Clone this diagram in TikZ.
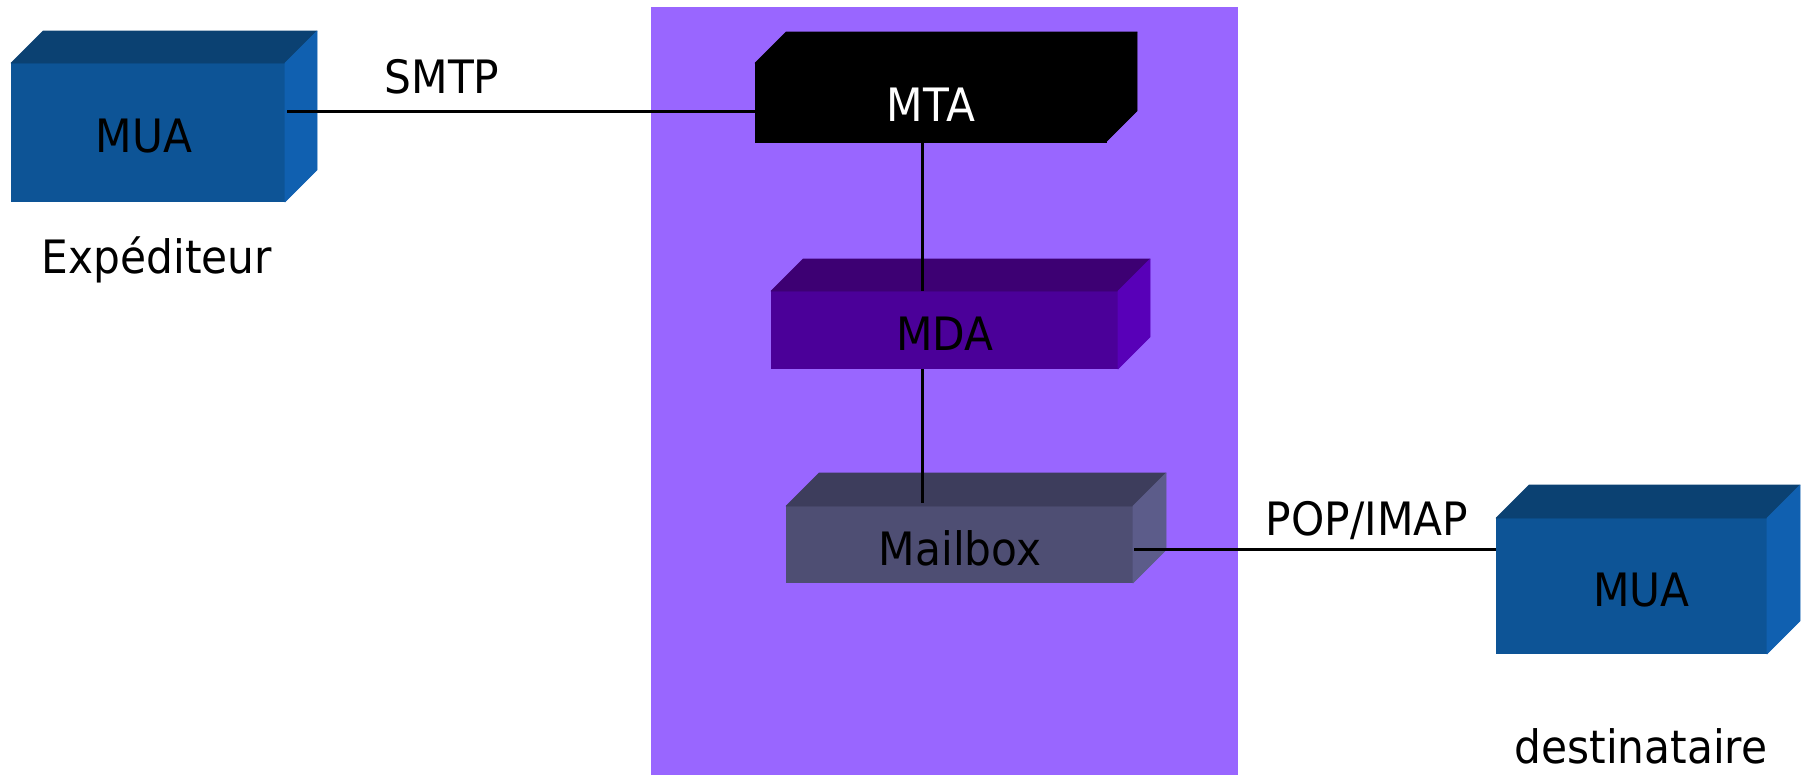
\documentclass[tikz,border=0pt]{standalone}
\usepackage{fontspec}
\setmainfont{DejaVu Sans}[FakeStretch=0.92]
\begin{document}
\begin{tikzpicture}[x=0.5pt,y=-0.5pt,
  face/.style={inner sep=0pt,outer sep=0pt,draw=none},
  txt/.style={inner sep=0pt,anchor=base,font=\fontsize{23}{27}\selectfont},
  wire/.style={line width=1.25pt,black}]
\definecolor{bgpurple}{RGB}{153,102,255}
\definecolor{muafront}{RGB}{13,84,150}
\definecolor{muatop}{RGB}{11,65,114}
\definecolor{muaside}{RGB}{16,96,176}
\definecolor{mdafront}{RGB}{75,0,153}
\definecolor{mdatop}{RGB}{61,0,115}
\definecolor{mdaside}{RGB}{88,0,184}
\definecolor{mbxfront}{RGB}{78,78,115}
\definecolor{mbxtop}{RGB}{61,61,92}
\definecolor{mbxside}{RGB}{92,92,138}
% draws the top and right faces of a box whose front face is node #1
\newcommand\boxsides[4]{%
  \filldraw[#3,line width=0.3pt,line join=round] (#1.north west) -- ++(#2,-#2) -- ([shift={(#2,-#2)}]#1.north east) -- (#1.north east) -- cycle;
  \filldraw[#4,line width=0.3pt,line join=round] (#1.north east) -- ++(#2,-#2) -- ([shift={(#2,-#2)}]#1.south east) -- (#1.south east) -- cycle;}
\useasboundingbox (0,0) rectangle (1810,777);
% server area
\fill[bgpurple] (651,7) rectangle (1238,775);
% sender
\node[face,fill=muafront,minimum width=137pt,minimum height=69.5pt] (mua1) at (148,132.5) {};
\boxsides{mua1}{32}{muatop}{muaside}
% transfer agent
\node[face,fill=black,draw=black,line width=0.3pt,minimum width=175.5pt,minimum height=39.5pt] (mta) at (930.5,102.5) {};
\boxsides{mta}{31}{black}{black}
% delivery agent
\node[face,fill=mdafront,minimum width=173.5pt,minimum height=39pt] (mda) at (944.5,330) {};
\boxsides{mda}{32}{mdatop}{mdaside}
% mailbox
\node[face,fill=mbxfront,minimum width=173.5pt,minimum height=38.5pt] (mbox) at (959.5,544.5) {};
\boxsides{mbox}{33}{mbxtop}{mbxside}
% recipient
\node[face,fill=muafront,minimum width=135.5pt,minimum height=68pt] (mua2) at (1631.5,586) {};
\boxsides{mua2}{33}{muatop}{muaside}
% box captions
\node[txt] (mua1t) at (144,152) {MUA};
\node[txt,white] (mtat) at (931,121.5) {MTA};
\node[txt] (mdat) at (945,350) {MDA};
\node[txt] (mboxt) at (960,565) {Mailbox};
\node[txt] (mua2t) at (1641.5,606.5) {MUA};
% connectors
\draw[wire] ([shift={(2,-21)}]mua1.east) coordinate (s1) -- (s1 -| mta.west);
\draw[wire] ([xshift=-4pt]mta.south) coordinate (v1) -- (v1 |- mda.north);
\draw[wire] (v1 |- mda.south) -- ([yshift=1.5pt]v1 |- mbox.north);
\draw[wire] ([shift={(1,5)}]mbox.east) coordinate (p1) -- (p1 -| mua2.west);
% labels
\node[txt] (smtp) at (442,93) {SMTP};
\node[txt] (popimap) at (1367,535) {POP/IMAP};
\node[txt] (sender) at (157,273) {Expéditeur};
\node[txt] (recipient) at (1641,763) {destinataire};
\end{tikzpicture}
\end{document}
